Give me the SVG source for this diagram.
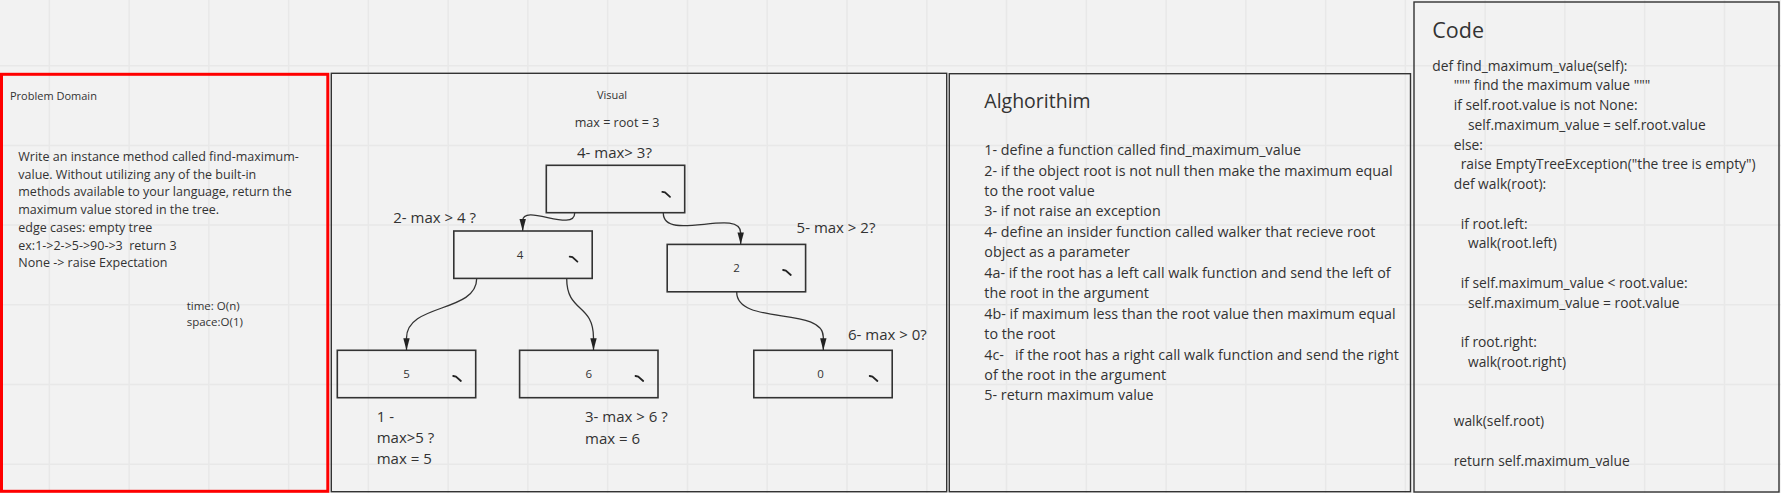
<svg xmlns="http://www.w3.org/2000/svg" width="1781" height="493" viewBox="0 0 1781 493">
<defs>
<style>
text{font-family:"Open Sans","Noto Sans","Liberation Sans",sans-serif;fill:#333}
.grid{stroke:#e8e8e8;stroke-width:1.5;fill:none}
.panel{fill:none;stroke:#333;stroke-width:1.4}
.node{fill:none;stroke:#333;stroke-width:1.6}
.tick{fill:none;stroke:#222;stroke-width:1.8;stroke-linecap:round}
.num{font-size:11.5px;text-anchor:middle}
.lbl{font-size:15px}
.body{font-size:12.5px}
.alg{font-size:14.3px}
.code{font-size:13.8px}
.conn{fill:none;stroke:#333;stroke-width:1.3}
</style>
<marker id="arr" markerUnits="userSpaceOnUse" markerWidth="12" markerHeight="7" refX="12" refY="3.2" orient="auto">
<path d="M0,0 L12,3.2 L0,6.4 z" fill="#222"/>
</marker>
</defs>
<rect x="0" y="0" width="1781" height="493" fill="#f2f2f2"/>
<path class="grid" d="M49.3,0V493M129.1,0V493M208.8,0V493M288.6,0V493M368.4,0V493M448.2,0V493M527.9,0V493M607.7,0V493M687.5,0V493M767.2,0V493M847,0V493M926.8,0V493M1006.5,0V493M1086.3,0V493M1166.1,0V493M1245.9,0V493M1325.6,0V493M1405.4,0V493M1485.2,0V493M1564.9,0V493M1644.7,0V493M1724.5,0V493M0,65.7H1781M0,145.4H1781M0,225.1H1781M0,304.8H1781M0,384.5H1781M0,464.2H1781"/>

<g id="panel-problem">
<rect x="1.5" y="74.3" width="326.3" height="417" fill="none" stroke="#ff0000" stroke-width="3"/>
<text x="10" y="100" style="font-size:11px">Problem Domain</text>
<text class="body" xml:space="preserve"><tspan x="18.3" y="160.7">Write an instance method called find-maximum-</tspan><tspan x="18.3" y="178.5">value. Without utilizing any of the built-in</tspan><tspan x="18.3" y="196.3">methods available to your language, return the</tspan><tspan x="18.3" y="214">maximum value stored in the tree.</tspan><tspan x="18.3" y="231.8">edge cases: empty tree</tspan><tspan x="18.3" y="249.6">ex:1-&gt;2-&gt;5-&gt;90-&gt;3  return 3</tspan><tspan x="18.3" y="267.4">None -&gt; raise Expectation</tspan></text>
<text style="font-size:11.5px"><tspan x="186.7" y="310">time: O(n)</tspan><tspan x="186.7" y="326">space:O(1)</tspan></text>
</g>

<g id="panel-visual">
<rect class="panel" x="331.3" y="73.3" width="615.4" height="418.4"/>
<text x="612" y="99.3" style="font-size:11px" text-anchor="middle">Visual</text>
<text x="617" y="126.7" style="font-size:12.6px" text-anchor="middle">max = root = 3</text>
<text class="lbl" x="577" y="157.7">4- max&gt; 3?</text>
<text class="lbl" x="393.3" y="222.7">2- max &gt; 4 ?</text>
<text class="lbl" x="796.6" y="232.7">5- max &gt; 2?</text>
<text class="lbl" x="848" y="340">6- max &gt; 0?</text>
<text class="lbl"><tspan x="376.7" y="421.7">1 -</tspan><tspan x="376.7" y="443">max&gt;5 ?</tspan><tspan x="376.7" y="464.2">max = 5</tspan></text>
<text class="lbl"><tspan x="585" y="421.7">3- max &gt; 6 ?</tspan><tspan x="585" y="443.5">max = 6</tspan></text>
</g>

<g id="node-root">
<rect class="node" x="546.3" y="165.3" width="138.4" height="47.4"/>
<path class="tick" d="M662.3,191.8 L665,192.3 L670,196.8"/>
</g>
<g id="node-4">
<rect class="node" x="453.8" y="231" width="138.4" height="47.4"/>
<text class="num" x="520" y="258.7">4</text>
<path class="tick" d="M569.7,256.6 L572.4,257.1 L577.4,261.6"/>
</g>
<g id="node-2">
<rect class="node" x="667.2" y="244.4" width="138.4" height="47.4"/>
<text class="num" x="736.5" y="272">2</text>
<path class="tick" d="M783.1,270 L785.8,270.5 L790.8,275"/>
</g>
<g id="node-5">
<rect class="node" x="337.3" y="350.3" width="138.4" height="47.4"/>
<text class="num" x="406.5" y="378">5</text>
<path class="tick" d="M453.2,376 L455.9,376.5 L460.9,381"/>
</g>
<g id="node-6">
<rect class="node" x="519.6" y="350.3" width="138.4" height="47.4"/>
<text class="num" x="588.8" y="378">6</text>
<path class="tick" d="M635.5,376 L638.2,376.5 L643.2,381"/>
</g>
<g id="node-0">
<rect class="node" x="753.8" y="350.3" width="138.4" height="47.4"/>
<text class="num" x="820.5" y="378">0</text>
<path class="tick" d="M869.7,376 L872.4,376.5 L877.4,381"/>
</g>

<g id="connectors">
<path class="conn" marker-end="url(#arr)" d="M574.7,213 C574.7,233 522.7,203 522.7,221 L522.7,231"/>
<path class="conn" marker-end="url(#arr)" d="M663.3,213 C663.3,243 740.7,207 740.7,233 L740.7,244.4"/>
<path class="conn" marker-end="url(#arr)" d="M476.7,278.5 C476.7,313 406.5,303 406.5,338 L406.5,350.3"/>
<path class="conn" marker-end="url(#arr)" d="M566.7,278.5 C566.7,313 593.5,303 593.5,338 L593.5,350.3"/>
<path class="conn" marker-end="url(#arr)" d="M736.7,292 C736.7,326 823.3,306 823.3,337 L823.3,350.3"/>
</g>

<g id="panel-algorithm">
<rect class="panel" x="949.3" y="73.7" width="461.2" height="418"/>
<text x="984.3" y="108.3" style="font-size:19.5px">Alghorithim</text>
<text class="alg" xml:space="preserve"><tspan x="984.3" y="155">1- define a function called find_maximum_value</tspan><tspan x="984.3" y="175.5">2- if the object root is not null then make the maximum equal</tspan><tspan x="984.3" y="195.9">to the root value</tspan><tspan x="984.3" y="216.4">3- if not raise an exception</tspan><tspan x="984.3" y="236.8">4- define an insider function called walker that recieve root</tspan><tspan x="984.3" y="257.3">object as a parameter</tspan><tspan x="984.3" y="277.7">4a- if the root has a left call walk function and send the left of</tspan><tspan x="984.3" y="298.2">the root in the argument</tspan><tspan x="984.3" y="318.6">4b- if maximum less than the root value then maximum equal</tspan><tspan x="984.3" y="339.1">to the root</tspan><tspan x="984.3" y="359.5">4c-   if the root has a right call walk function and send the right</tspan><tspan x="984.3" y="380">of the root in the argument</tspan><tspan x="984.3" y="400.4">5- return maximum value</tspan></text>
</g>

<g id="panel-code">
<rect class="panel" x="1414" y="2" width="365" height="490"/>
<text x="1432.3" y="38.3" style="font-size:21.5px">Code</text>
<text class="code"><tspan x="1432.3" y="70.7">def find_maximum_value(self):</tspan><tspan x="1453.7" y="90.4">""" find the maximum value """</tspan><tspan x="1453.7" y="110.2">if self.root.value is not None:</tspan><tspan x="1468" y="130">self.maximum_value = self.root.value</tspan><tspan x="1453.7" y="149.7">else:</tspan><tspan x="1460.7" y="169.4">raise EmptyTreeException("the tree is empty")</tspan><tspan x="1453.7" y="189.2">def walk(root):</tspan><tspan x="1460.7" y="228.7">if root.left:</tspan><tspan x="1468" y="248.4">walk(root.left)</tspan><tspan x="1460.7" y="288">if self.maximum_value &lt; root.value:</tspan><tspan x="1468" y="307.7">self.maximum_value = root.value</tspan><tspan x="1460.7" y="347.2">if root.right:</tspan><tspan x="1468" y="367">walk(root.right)</tspan><tspan x="1453.7" y="426.2">walk(self.root)</tspan><tspan x="1453.7" y="465.7">return self.maximum_value</tspan></text>
</g>
</svg>
